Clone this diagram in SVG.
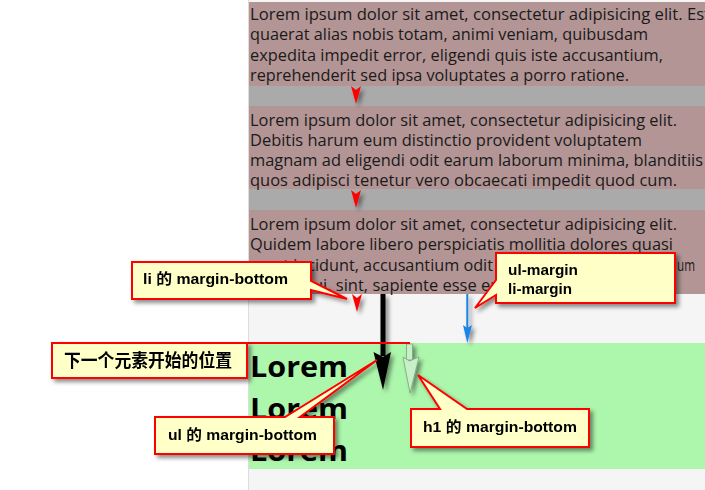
<svg xmlns="http://www.w3.org/2000/svg" width="705" height="490" viewBox="0 0 705 490">
<defs>
<style>
.p{font-family:"Open Sans","Noto Sans",sans-serif;font-size:16px;fill:#1a1a1a}
.h{font-family:"Open Sans","Noto Sans",sans-serif;font-size:28px;font-weight:bold;fill:#000}
.c{fill:#ffffc8;stroke:#ff0000;stroke-width:2;stroke-linejoin:miter}
.ct{font-family:"Liberation Sans","Noto Sans CJK SC",sans-serif;font-size:15px;font-weight:bold;fill:#000}
.cn{font-family:"Noto Sans CJK SC",sans-serif;font-size:18px;font-weight:bold;fill:#000}
.ra{fill:#ff0000}
</style>
<filter id="sh" x="-20%" y="-20%" width="150%" height="160%">
<feDropShadow dx="3" dy="3" stdDeviation="2" flood-color="#000" flood-opacity="0.45"/>
</filter>
</defs>
<rect x="0" y="0" width="705" height="490" fill="#ffffff"/>
<rect x="249" y="0" width="456" height="490" fill="#f5f5f5"/>
<line x1="248.5" y1="0" x2="248.5" y2="490" stroke="#dddddd" stroke-width="1"/>

<g id="list">
<rect x="249" y="2" width="456" height="84" fill="#b39595"/>
<rect x="249" y="86" width="456" height="20" fill="#aaaaaa"/>
<rect x="249" y="106" width="456" height="83" fill="#b39595"/>
<rect x="249" y="189" width="456" height="21" fill="#aaaaaa"/>
<rect x="249" y="210" width="456" height="84" fill="#b39595"/>
<text class="p" x="250" y="20" textLength="460" lengthAdjust="spacingAndGlyphs">Lorem ipsum dolor sit amet, consectetur adipisicing elit. Est</text>
<text class="p" x="250" y="40" textLength="398" lengthAdjust="spacingAndGlyphs">quaerat alias nobis totam, animi veniam, quibusdam</text>
<text class="p" x="250" y="61" textLength="413" lengthAdjust="spacingAndGlyphs">expedita impedit error, eligendi quis iste accusantium,</text>
<text class="p" x="250" y="81" textLength="379" lengthAdjust="spacingAndGlyphs">reprehenderit sed ipsa voluptates a porro ratione.</text>
<text class="p" x="250" y="126" textLength="427" lengthAdjust="spacingAndGlyphs">Lorem ipsum dolor sit amet, consectetur adipisicing elit.</text>
<text class="p" x="250" y="146" textLength="392" lengthAdjust="spacingAndGlyphs">Debitis harum eum distinctio provident voluptatem</text>
<text class="p" x="250" y="166" textLength="453" lengthAdjust="spacingAndGlyphs">magnam ad eligendi odit earum laborum minima, blanditiis</text>
<text class="p" x="250" y="186" textLength="427" lengthAdjust="spacingAndGlyphs">quos adipisci tenetur vero obcaecati impedit quod cum.</text>
<text class="p" x="250" y="230" textLength="427" lengthAdjust="spacingAndGlyphs">Lorem ipsum dolor sit amet, consectetur adipisicing elit.</text>
<text class="p" x="250" y="250" textLength="423" lengthAdjust="spacingAndGlyphs">Quidem labore libero perspiciatis mollitia dolores quasi</text>
<text class="p" x="250" y="271" textLength="243" lengthAdjust="spacingAndGlyphs">amet incidunt, accusantium odit</text>
<text class="p" x="677" y="271" textLength="18" lengthAdjust="spacingAndGlyphs">um</text>
<text class="p" x="313" y="291" textLength="184" lengthAdjust="spacingAndGlyphs">ui, sint, sapiente esse er</text>
</g>

<g id="heading">
<rect x="249" y="343" width="456" height="126" fill="#adf7ad"/>
<text class="h" x="250" y="377" textLength="98" lengthAdjust="spacingAndGlyphs">Lorem</text>
<text class="h" x="250" y="419" textLength="98" lengthAdjust="spacingAndGlyphs">Lorem</text>
<text class="h" x="250" y="461" textLength="98" lengthAdjust="spacingAndGlyphs">Lorem</text>
</g>

<g id="connectors">
<g filter="url(#sh)">
<polygon class="ra" points="351,86 356,90 361,86 356,104"/>
<polygon class="ra" points="351,190 356,194 361,190 356,208"/>
<polygon class="ra" points="352,294 357,298 362,294 357,312"/>
<rect x="380.5" y="294" width="5" height="62" fill="#000"/>
<polygon points="373.5,352 383,357 391,352 383,390" fill="#000"/>
<rect x="406.5" y="344" width="6" height="16" fill="#c8f0c8" stroke="#7fa07f" stroke-width="0.8"/>
<polygon points="403,357 409.5,361 419,357 410,393" fill="#c8f0c8" stroke="#7fa07f" stroke-width="0.8"/>
<rect x="466.3" y="294" width="2" height="34" fill="#1c84e8"/>
<polygon points="463,325 467.3,328 472,325 467.3,343" fill="#1c84e8"/>
</g>
<line x1="246" y1="343" x2="410" y2="343" stroke="#ff0000" stroke-width="2"/>
</g>

<g id="callout-li" filter="url(#sh)">
<path class="c" d="M132,262 H311 V281 L347,299 L311,290 V299 H132 Z"/>
<text class="ct" x="143" y="284" textLength="145" lengthAdjust="spacingAndGlyphs">li 的 margin-bottom</text>
</g>

<g id="callout-ulli" filter="url(#sh)">
<path class="c" d="M496,253 H675 V303 H496 V295 L475,308 L496,280 Z"/>
<text class="ct" x="508" y="275" textLength="70" lengthAdjust="spacingAndGlyphs">ul-margin</text>
<text class="ct" x="508" y="294" textLength="64" lengthAdjust="spacingAndGlyphs">li-margin</text>
</g>

<g id="callout-next" filter="url(#sh)">
<rect class="c" x="52" y="343" width="195" height="35"/>
<text class="cn" x="64" y="367" textLength="168" lengthAdjust="spacingAndGlyphs">下一个元素开始的位置</text>
</g>

<g id="callout-ul" filter="url(#sh)">
<path class="c" d="M155,417 H285 L377,360 L300,417 H334 V454 H155 Z"/>
<text class="ct" x="168" y="440" textLength="149" lengthAdjust="spacingAndGlyphs">ul 的 margin-bottom</text>
</g>

<g id="callout-h1" filter="url(#sh)">
<path class="c" d="M411,409 H440 L418,375 L467,409 H589 V447 H411 Z"/>
<text class="ct" x="423" y="432" textLength="154" lengthAdjust="spacingAndGlyphs">h1 的 margin-bottom</text>
</g>
</svg>
